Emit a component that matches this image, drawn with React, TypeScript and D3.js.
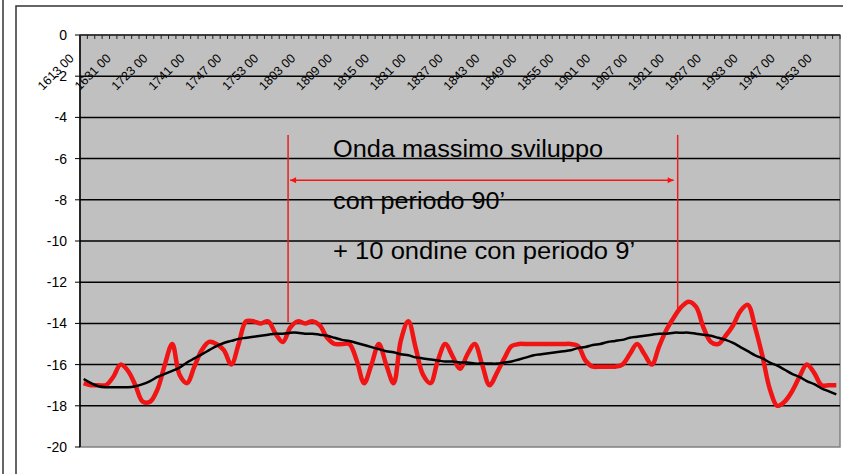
import React from "react";
import * as d3 from "d3";

// ---- data ----
const tickLabels = [
  "1613 00", "1631 00", "1723 00", "1741 00", "1747 00", "1753 00", "1803 00",
  "1809 00", "1815 00", "1831 00", "1837 00", "1843 00", "1849 00", "1855 00",
  "1901 00", "1907 00", "1921 00", "1927 00", "1933 00", "1947 00", "1953 00",
];
const labelEvery = 5;

const redValues = [
  -16.9, -17.0, -17.0, -17.0, -16.6, -16.0, -16.3, -17.0, -17.8, -17.8,
  -17.2, -16.0, -15.0, -16.5, -16.9, -16.1, -15.3, -14.9, -15.0, -15.3,
  -16.0, -15.0, -13.9, -13.9, -14.0, -13.9, -14.5, -14.9, -14.2, -13.9,
  -14.0, -13.9, -14.1, -14.7, -15.0, -15.0, -15.0, -15.8, -16.9, -16.0,
  -15.0, -16.0, -16.9, -14.8, -13.9, -15.2, -16.5, -16.9, -15.8, -15.0,
  -15.6, -16.2, -15.5, -15.0, -16.0, -17.0, -16.4, -15.7, -15.1, -15.0,
  -15.0, -15.0, -15.0, -15.0, -15.0, -15.0, -15.0, -15.1, -15.8, -16.1,
  -16.1, -16.1, -16.1, -16.0, -15.5, -15.0, -15.5, -16.0, -15.1, -14.3,
  -13.7, -13.2, -12.95, -13.2, -14.2, -14.9, -15.0, -14.6, -14.1, -13.4,
  -13.1, -14.2, -15.6, -17.2, -18.0, -17.8, -17.3, -16.6, -16.0, -16.4,
  -17.0, -17.0, -17.0,
];

const trendValues = [
  -16.7, -16.9, -17.05, -17.1, -17.1, -17.1, -17.1, -17.05, -16.95, -16.8,
  -16.6, -16.45, -16.3, -16.15, -15.9, -15.7, -15.5, -15.3, -15.1, -14.95,
  -14.85, -14.75, -14.7, -14.65, -14.6, -14.55, -14.5, -14.5, -14.45, -14.45,
  -14.5, -14.5, -14.55, -14.6, -14.7, -14.8, -14.85, -14.95, -15.05, -15.15,
  -15.25, -15.35, -15.4, -15.5, -15.55, -15.65, -15.7, -15.75, -15.8, -15.85,
  -15.85, -15.9, -15.9, -15.95, -15.95, -15.95, -15.95, -15.9, -15.85, -15.75,
  -15.65, -15.55, -15.5, -15.45, -15.4, -15.35, -15.3, -15.2, -15.15, -15.05,
  -15.0, -14.9, -14.85, -14.8, -14.7, -14.65, -14.6, -14.55, -14.5, -14.5,
  -14.45, -14.45, -14.45, -14.5, -14.55, -14.6, -14.7, -14.8, -14.95, -15.15,
  -15.35, -15.55, -15.7, -15.9, -16.05, -16.25, -16.45, -16.6, -16.8, -16.95,
  -17.15, -17.3, -17.45,
];

const yTicks = [0, -2, -4, -6, -8, -10, -12, -14, -16, -18, -20];
const annotationLines = [
  "Onda massimo sviluppo",
  "con periodo 90\u2019",
  "+ 10 ondine con periodo 9\u2019",
];

const W = 843;
const H = 474;
const plot = { left: 80, right: 840, top: 35, bottom: 447 };
const FONT = "'Liberation Sans', Arial, sans-serif";

export default function App() {
  const n = redValues.length;
  const xPos = d3.scaleLinear().domain([0, n]).range([plot.left, plot.right]);
  const y = d3.scaleLinear().domain([-20, 0]).range([plot.bottom, plot.top]);
  const cx = (i: number) => xPos(i + 0.5);

  const line = d3
    .line<number>()
    .x((_, i) => cx(i))
    .y((d) => y(d))
    .curve(d3.curveCatmullRom.alpha(0.5));

  const boundaries = d3.range(n + 1);

  // annotation positions in data coordinates
  const leftIdx = 28.2;
  const rightIdx = 81.0;
  const arrowY = -7.05;
  const textIdx = 34.3;
  const textVals = [-5.92, -8.45, -10.87];
  const textWidths = [270, 172, 302];

  return (
    <svg
      width={W}
      height={H}
      style={{ position: "absolute", left: 0, top: 0, background: "#fff" }}
      fontFamily={FONT}
    >
      <defs>
        <marker id="arrR" viewBox="0 0 10 10" refX="10" refY="5" markerWidth="8" markerHeight="6" orient="auto" markerUnits="userSpaceOnUse">
          <path d="M0,0 L10,5 L0,10 z" fill="#ff1010" />
        </marker>
        <marker id="arrL" viewBox="0 0 10 10" refX="0" refY="5" markerWidth="8" markerHeight="6" orient="auto" markerUnits="userSpaceOnUse">
          <path d="M10,0 L0,5 L10,10 z" fill="#ff1010" />
        </marker>
      </defs>
      {/* outer frame */}
      <line x1={3} x2={3} y1={0} y2={H} stroke="#333" strokeWidth={1.5} />
      <rect x={16} y={6} width={W} height={H} fill="#fff" stroke="#333" strokeWidth={1.5} />

      {/* plot area */}
      <rect
        x={plot.left}
        y={plot.top}
        width={plot.right - plot.left}
        height={plot.bottom - plot.top}
        fill="#c0c0c0"
        stroke="#808080"
        strokeWidth={1.5}
      />

      {/* gridlines */}
      {yTicks
        .filter((v) => v !== 0 && v !== -20)
        .map((v) => (
          <line key={v} x1={plot.left} x2={plot.right} y1={y(v)} y2={y(v)} stroke="#000" strokeWidth={1.5} />
        ))}

      {/* y axis */}
      <line x1={plot.left} x2={plot.left} y1={plot.top} y2={plot.bottom} stroke="#000" strokeWidth={1.5} />
      {yTicks.map((v) => (
        <g key={v}>
          <line x1={plot.left - 5} x2={plot.left} y1={y(v)} y2={y(v)} stroke="#000" strokeWidth={1} />
          <text x={67} y={y(v) + 5} textAnchor="end" fontSize={14} fill="#000">
            {v}
          </text>
        </g>
      ))}

      {/* top category axis */}
      <line x1={plot.left} x2={plot.right} y1={plot.top} y2={plot.top} stroke="#222" strokeWidth={1.5} />
      {boundaries.map((b) => (
        <line key={b} x1={xPos(b)} x2={xPos(b)} y1={plot.top} y2={plot.top + 4} stroke="#222" strokeWidth={1} />
      ))}
      {tickLabels.map((t, k) => {
        const px = cx(k * labelEvery) - 9;
        const py = 59;
        return (
          <text
            key={t + k}
            x={px}
            y={py}
            textAnchor="end"
            fontSize={12.5}
            fill="#000"
            transform={`rotate(-45 ${px} ${py})`}
          >
            {t}
          </text>
        );
      })}

      {/* annotations */}
      <line x1={xPos(leftIdx)} x2={xPos(leftIdx)} y1={y(-4.85)} y2={y(-13.93)} stroke="#e82020" strokeWidth={1.5} />
      <line x1={xPos(rightIdx)} x2={xPos(rightIdx)} y1={y(-4.85)} y2={y(-13.4)} stroke="#e82020" strokeWidth={1.5} />
      <line
        x1={xPos(leftIdx) + 2}
        x2={xPos(rightIdx) - 4}
        y1={y(arrowY)}
        y2={y(arrowY)}
        stroke="#ff1010"
        strokeWidth={1.5}
        markerStart="url(#arrL)"
        markerEnd="url(#arrR)"
      />
      {annotationLines.map((s, i) => (
        <text
          key={s}
          x={xPos(textIdx)}
          y={y(textVals[i])}
          fontSize={23}
          fill="#000"
          textLength={textWidths[i]}
          lengthAdjust="spacingAndGlyphs"
        >
          {s}
        </text>
      ))}

      {/* series */}
      <path d={line(redValues) || ""} fill="none" stroke="#f01414" strokeWidth={4.5} strokeLinejoin="round" />
      <path d={line(trendValues) || ""} fill="none" stroke="#000" strokeWidth={2.5} strokeLinejoin="round" />
    </svg>
  );
}
